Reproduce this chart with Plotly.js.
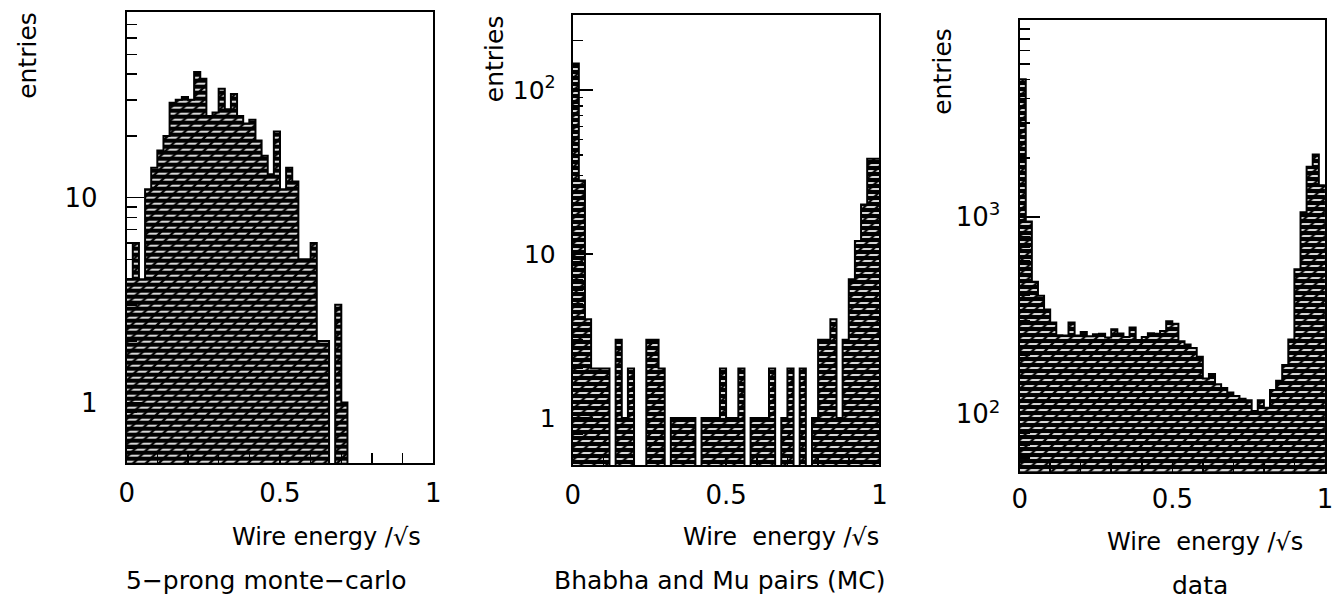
<!DOCTYPE html>
<html>
<head>
<meta charset="utf-8">
<script src="https://cdn.plot.ly/plotly-3.0.1.min.js"></script>
<style>
  html, body { margin: 0; padding: 0; background: #fff; }
  #chart { width: 1339px; height: 603px; }
</style>
</head>
<body>
<div id="chart"></div>
<script>
// Wire energy / sqrt(s) histograms, 50 bins from 0 to 1, counts per bin.
const binWidth = 0.02;

const fiveProngMC = [
  4, 6, 4, 11, 14, 17, 20, 29, 30, 31,
  30, 41, 38, 25, 26, 34, 27, 32, 25, 23,
  24, 19, 16, 13, 21, 11, 14, 12, 5, 5,
  6, 2, 2, 0, 3, 1, 0, 0, 0, 0,
  0, 0, 0, 0, 0, 0, 0, 0, 0, 0
];

const bhabhaMuMC = [
  145, 28, 4, 2, 2, 2, 0, 3, 1, 2,
  0, 0, 3, 3, 2, 0, 1, 1, 1, 1,
  0, 1, 1, 1, 2, 1, 1, 2, 0, 1,
  1, 1, 2, 0, 1, 2, 0, 2, 0, 1,
  3, 3, 4, 1, 3, 7, 12, 20, 38, 38
];

const dataCounts = [
  5000, 950, 470, 400, 340, 292, 252, 251, 292, 251,
  262, 249, 255, 256, 245, 270, 257, 247, 276, 238,
  247, 258, 256, 265, 297, 288, 235, 226, 217, 196,
  152, 160, 142, 136, 129, 124, 120, 118, 104, 118,
  108, 133, 148, 178, 240, 545, 1060, 1800, 2080, 1450
];

const xTickVals = [0, 0.5, 1];
const xTickText = ['0', '0.5', '1'];

const subtitles = ['5\u2212prong monte\u2212carlo', 'Bhabha and Mu pairs (MC)', 'data'];
const xTitles = ['Wire energy /\u221As', 'Wire\u00a0 energy /\u221As', 'Wire\u00a0 energy /\u221As'];
const yTitle = 'entries';

// lower bin edges
const binLow = fiveProngMC.map((_, i) => +(i * binWidth).toFixed(4));
const edges = binLow.concat([+(binLow.length * binWidth).toFixed(4)]);

const FONT = 'DejaVu Sans, Liberation Sans, sans-serif';

function histTraces(counts, xa, ya) {
  const barY = counts.map(v => (v > 0 ? v : null));
  // empty bins drop the outline below the visible range
  const lineY = counts.map(v => (v > 0 ? v : 1e-3));
  lineY.push(lineY[lineY.length - 1]);
  return [
    {
      type: 'bar', x: binLow, y: barY, width: binWidth, offset: 0,
      xaxis: xa, yaxis: ya, showlegend: false, hoverinfo: 'skip',
      marker: {
        color: 'white', line: { width: 0 },
        pattern: { shape: '-', fillmode: 'replace', bgcolor: 'white', fgcolor: 'black', size: 6, solidity: 0.72 }
      }
    },
    {
      type: 'bar', x: binLow, y: barY, width: binWidth, offset: 0,
      xaxis: xa, yaxis: ya, showlegend: false, hoverinfo: 'skip',
      marker: {
        color: 'rgba(0,0,0,0)', line: { width: 0 },
        pattern: { shape: '/', fillmode: 'overlay', fgcolor: 'black', fgopacity: 1, size: 9, solidity: 0.26 }
      }
    },
    {
      type: 'scatter', mode: 'lines', x: edges, y: lineY,
      xaxis: xa, yaxis: ya, showlegend: false, hoverinfo: 'skip',
      line: { shape: 'hv', color: 'black', width: 2 }
    }
  ];
}

const traces = []
  .concat(histTraces(fiveProngMC, 'x', 'y'))
  .concat(histTraces(bhabhaMuMC, 'x2', 'y2'))
  .concat(histTraces(dataCounts, 'x3', 'y3'));

function xAxis(domain, anchor, standoff) {
  return {
    domain: domain, anchor: anchor, range: [0, 1], type: 'linear',
    tickmode: 'array', tickvals: xTickVals, ticktext: xTickText,
    ticks: 'inside', ticklen: 10, tickwidth: 1.5, tickcolor: 'black',
    minor: { dtick: 0.1, tick0: 0, ticks: 'inside', ticklen: 10, tickwidth: 1.5, tickcolor: 'black' },
    showline: true, linewidth: 2, linecolor: 'black', mirror: true,
    showgrid: false, zeroline: false, fixedrange: true,
    ticklabelstandoff: standoff,
    tickfont: { family: FONT, size: 26, color: 'black' }
  };
}

function yAxis(domain, anchor, range, vals, text, minorVals, majorLen, standoff, size) {
  return {
    domain: domain, anchor: anchor, type: 'log', range: range,
    tickmode: 'array', tickvals: vals, ticktext: text,
    ticks: 'inside', ticklen: majorLen, tickwidth: 1.5, tickcolor: 'black',
    minor: { tickmode: 'array', tickvals: minorVals, ticks: 'inside', ticklen: 10, tickwidth: 1.5, tickcolor: 'black' },
    showline: true, linewidth: 2, linecolor: 'black', mirror: true,
    showgrid: false, zeroline: false, fixedrange: true,
    ticklabelstandoff: standoff,
    tickfont: { family: FONT, size: size, color: 'black' }
  };
}

const minor1 = [0.6, 0.7, 0.8, 0.9, 2, 3, 4, 5, 6, 7, 8, 9, 20, 30, 40, 50, 60, 70, 80];
const minor2 = [0.6, 0.7, 0.8, 0.9, 2, 3, 4, 5, 6, 7, 8, 9, 20, 30, 40, 50, 60, 70, 80, 90, 200];
const minor3 = [60, 70, 80, 90, 200, 300, 400, 500, 600, 700, 800, 900, 2000, 3000, 4000, 5000, 6000, 7000, 8000, 9000];

function txt(text, x, y, size, angle) {
  return {
    text: text, x: x, y: y, xref: 'paper', yref: 'paper',
    xanchor: 'center', yanchor: 'middle', showarrow: false,
    textangle: angle || 0,
    font: { family: FONT, size: size, color: 'black' }
  };
}

const layout = {
  width: 1339, height: 603,
  margin: { l: 0, r: 0, t: 0, b: 0 },
  paper_bgcolor: 'white', plot_bgcolor: 'white',
  barmode: 'overlay', bargap: 0, showlegend: false,
  xaxis: xAxis([0.0946, 0.3236], 'y', 6),
  yaxis: yAxis([0.2317, 0.9806], 'x', [-0.296, 1.907], [1, 10], ['1', '10'], minor1, 17, 22, 26),
  xaxis2: xAxis([0.4277, 0.6568], 'y2', 6),
  yaxis2: yAxis([0.2289, 0.9751], 'x2', [-0.287, 2.457], [1, 10, 100], ['1', '10', '10<sup>2</sup>'], minor2, 20, 10, 25),
  xaxis3: xAxis([0.7615, 0.9895], 'y3', 3),
  yaxis3: yAxis([0.2177, 0.9668], 'x3', [1.709, 4.0], [100, 1000], ['10<sup>2</sup>', '10<sup>3</sup>'], minor3, 20, 12, 26),
  annotations: [
    txt(yTitle, 0.0209, 0.909, 25, -90),
    txt(yTitle, 0.3690, 0.902, 25, -90),
    txt(yTitle, 0.7043, 0.881, 25, -90),
    txt(xTitles[0], 0.2442, 0.1095, 24),
    txt(xTitles[1], 0.5833, 0.1095, 24),
    txt(xTitles[2], 0.9000, 0.1010, 24),
    txt(subtitles[0], 0.1987, 0.0381, 25),
    txt(subtitles[1], 0.5377, 0.0370, 25),
    txt(subtitles[2], 0.8962, 0.0290, 25)
  ]
};

Plotly.newPlot('chart', traces, layout, { staticPlot: true, displayModeBar: false });
</script>
</body>
</html>
